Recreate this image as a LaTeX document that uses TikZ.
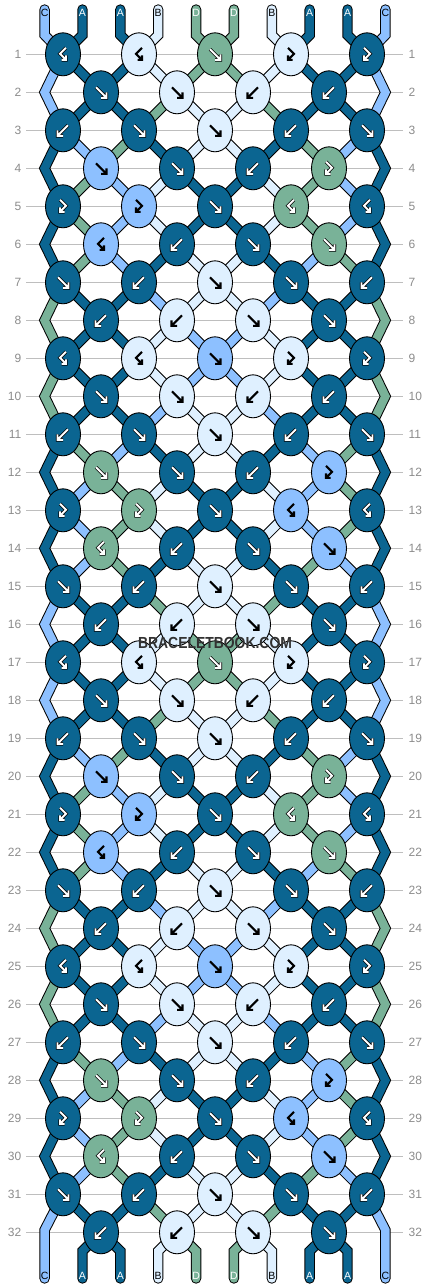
\documentclass[tikz,border=0pt]{standalone}
\usepackage{fontspec}
\setmainfont{Liberation Sans}
\usetikzlibrary{shapes.geometric}
\definecolor{cA}{RGB}{11,101,145}
\definecolor{cB}{RGB}{223,240,255}
\definecolor{cC}{RGB}{141,192,255}
\definecolor{cD}{RGB}{121,178,152}
\definecolor{gridgray}{RGB}{190,190,190}
\definecolor{labgray}{RGB}{140,140,140}
\definecolor{wmgray}{RGB}{50,50,50}
\pgfdeclarelayer{back}
\pgfdeclarelayer{strands}
\pgfsetlayers{back,strands,main}

% knot types / knot colours, rows 1-16 (pattern repeats)
\expandafter\def\csname kt1\endcsname{bf/A,bf/B,f/D,fb/B,fb/A}
\expandafter\def\csname kt2\endcsname{f/A,f/B,b/B,b/A}
\expandafter\def\csname kt3\endcsname{b/A,f/A,f/B,b/A,f/A}
\expandafter\def\csname kt4\endcsname{f/C,f/A,b/A,fb/D}
\expandafter\def\csname kt5\endcsname{fb/A,fb/C,f/A,bf/D,bf/A}
\expandafter\def\csname kt6\endcsname{bf/C,b/A,f/A,f/D}
\expandafter\def\csname kt7\endcsname{f/A,b/A,f/B,f/A,b/A}
\expandafter\def\csname kt8\endcsname{b/A,b/B,f/B,f/A}
\expandafter\def\csname kt9\endcsname{bf/A,bf/B,f/C,fb/B,fb/A}
\expandafter\def\csname kt10\endcsname{f/A,f/B,b/B,b/A}
\expandafter\def\csname kt11\endcsname{b/A,f/A,f/B,b/A,f/A}
\expandafter\def\csname kt12\endcsname{f/D,f/A,b/A,fb/C}
\expandafter\def\csname kt13\endcsname{fb/A,fb/D,f/A,bf/C,bf/A}
\expandafter\def\csname kt14\endcsname{bf/D,b/A,f/A,f/C}
\expandafter\def\csname kt15\endcsname{f/A,b/A,f/B,f/A,b/A}
\expandafter\def\csname kt16\endcsname{b/A,b/B,f/B,f/A}

% string colours per position after each row (mod 16)
\foreach \sr/\va/\vb/\vc/\vd/\ve/\vf/\vg/\vh/\vi/\vj in {
 0/C/A/A/B/D/D/B/A/A/C, 1/C/A/A/B/D/D/B/A/A/C, 2/C/A/A/D/B/B/D/A/A/C,
 3/A/C/D/A/B/B/A/D/C/A, 4/A/D/C/B/A/A/B/D/C/A, 5/A/D/C/B/A/A/B/D/C/A,
 6/A/D/C/A/B/B/A/C/D/A, 7/D/A/A/C/B/B/C/A/A/D, 8/D/A/A/B/C/C/B/A/A/D,
 9/D/A/A/B/C/C/B/A/A/D, 10/D/A/A/C/B/B/C/A/A/D, 11/A/D/C/A/B/B/A/C/D/A,
 12/A/C/D/B/A/A/B/C/D/A, 13/A/C/D/B/A/A/B/C/D/A, 14/A/C/D/A/B/B/A/D/C/A,
 15/C/A/A/D/B/B/D/A/A/C}{%
 \expandafter\xdef\csname st\sr-1\endcsname{\va}%
 \expandafter\xdef\csname st\sr-2\endcsname{\vb}%
 \expandafter\xdef\csname st\sr-3\endcsname{\vc}%
 \expandafter\xdef\csname st\sr-4\endcsname{\vd}%
 \expandafter\xdef\csname st\sr-5\endcsname{\ve}%
 \expandafter\xdef\csname st\sr-6\endcsname{\vf}%
 \expandafter\xdef\csname st\sr-7\endcsname{\vg}%
 \expandafter\xdef\csname st\sr-8\endcsname{\vh}%
 \expandafter\xdef\csname st\sr-9\endcsname{\vi}%
 \expandafter\xdef\csname st\sr-10\endcsname{\vj}%
}

% knot symbols (image coordinates, y downwards)
\newcommand\kSymf[1]{\draw[#1] (-5,-5) -- (5.5,5.5) (0,5.5) -- (5.5,5.5) -- (5.5,0);}
\newcommand\kSymb[1]{\draw[#1] (5,-5) -- (-5.5,5.5) (0,5.5) -- (-5.5,5.5) -- (-5.5,0);}
\newcommand\kSymfb[1]{\draw[#1] (-3,-6.5) -- (3,-0.5) -- (-3,5.5) (1.5,5.5) -- (-3,5.5) -- (-3,1);}
\newcommand\kSymbf[1]{\draw[#1] (3,-6.5) -- (-3,-0.5) -- (3,5.5) (-1.5,5.5) -- (3,5.5) -- (3,1);}
\newcommand\drawsym[4]{%
 \begin{scope}[shift={(#3,#4)}]
 \if A#2\def\isw{1}\else\if D#2\def\isw{1}\else\def\isw{0}\fi\fi
 \ifnum\isw=1
  \csname kSym#1\endcsname{line width=3.4,black}%
  \csname kSym#1\endcsname{line width=1.9,white}%
 \else
  \csname kSym#1\endcsname{line width=2.1,black}%
 \fi
 \end{scope}}

\newcommand\allstrands{%
 \foreach \rw in {1,...,31}{%
  \pgfmathtruncatemacro\mm{mod(\rw,16)}%
  \pgfmathtruncatemacro\rn{\rw+1}%
  \pgfmathtruncatemacro\isodd{mod(\rw,2)}%
  \foreach \pp in {2,...,9}{%
   \pgfmathtruncatemacro\co{2*floor((\pp-1)/2)}%
   \pgfmathtruncatemacro\ce{2*floor(\pp/2)-1}%
   \edef\scol{c\csname st\mm-\pp\endcsname}%
   \ifnum\isodd=1
    \draw[sty=\scol] (k-\rw-\co.center) -- (k-\rn-\ce.center);
   \else
    \draw[sty=\scol] (k-\rw-\ce.center) -- (k-\rn-\co.center);
   \fi
  }%
 }%
 \foreach \rw in {1,3,...,29}{%
  \pgfmathtruncatemacro\mm{mod(\rw,16)}%
  \pgfmathtruncatemacro\rn{\rw+1}%
  \pgfmathtruncatemacro\rnn{\rw+2}%
  \edef\scol{c\csname st\mm-1\endcsname}%
  \draw[sty=\scol] (k-\rw-0.center) -- (eL-\rn) -- (k-\rnn-0.center);
  \edef\scol{c\csname st\mm-10\endcsname}%
  \draw[sty=\scol] (k-\rw-8.center) -- (eR-\rn) -- (k-\rnn-8.center);
 }%
 \foreach \pp in {1,...,10}{%
  \pgfmathtruncatemacro\co{2*floor((\pp-1)/2)}%
  \edef\scol{c\csname st0-\pp\endcsname}%
  \draw[sty=\scol] (tt\pp) -- (tb\pp) -- (k-1-\co.center);
 }%
 \foreach \pp in {2,...,9}{%
  \pgfmathtruncatemacro\ce{2*floor(\pp/2)-1}%
  \edef\scol{c\csname st0-\pp\endcsname}%
  \draw[sty=\scol] (k-32-\ce.center) -- (bb\pp) -- (bt\pp);
 }%
 \edef\scol{c\csname st0-1\endcsname}%
 \draw[sty=\scol] (k-31-0.center) -- (bb1) -- (bt1);
 \edef\scol{c\csname st0-10\endcsname}%
 \draw[sty=\scol] (k-31-8.center) -- (bb10) -- (bt10);
}

\tikzset{
 knot/.style={ellipse, draw=black, line width=0.9, minimum width=35, minimum height=43, inner sep=0},
 gridline/.style={draw=gridgray, line width=1},
 rowlab/.style={text=labgray, font=\fontsize{12}{12}\selectfont, inner sep=0},
 endlab/.style={font=\fontsize{10.5}{10.5}\selectfont, inner sep=0},
 strandout/.style={draw=black, line width=10.4, line cap=round, line join=miter},
}

\begin{document}
\begin{tikzpicture}[x=1pt,y=-1pt]
\useasboundingbox (0,0) rectangle (430,1288);
\begin{pgfonlayer}{back}
 \fill[white] (0,0) rectangle (430,1288);
 \foreach \rw in {1,...,32}{
  \pgfmathsetmacro\ky{54.3+38*(\rw-1)}
  \draw[gridline] (26,\ky) -- (403,\ky);
  \node[rowlab, anchor=east] (ll\rw) at (21.5,\ky) {\rw};
  \node[rowlab, anchor=west] (lr\rw) at (408.5,\ky) {\rw};
 }
\end{pgfonlayer}

% edge and end coordinates
\foreach \rw in {2,4,...,32}{
 \pgfmathsetmacro\ky{54.3+38*(\rw-1)}
 \coordinate (eL-\rw) at (44.6,\ky);
 \coordinate (eR-\rw) at (385.4,\ky);
}
\foreach \pp in {1,...,10}{
 \pgfmathsetmacro\px{44.6+37.867*(\pp-1)}
 \coordinate (tt\pp) at (\px,9.5);
 \coordinate (tb\pp) at (\px,35);
 \coordinate (bb\pp) at (\px,1251);
 \coordinate (bt\pp) at (\px,1278.5);
}
\coordinate (bb1) at (44.6,1230);
\coordinate (bb10) at (385.4,1230);

% knots
\foreach \rw in {1,...,32}{
 \pgfmathtruncatemacro\mm{mod(\rw-1,16)+1}
 \pgfmathtruncatemacro\isodd{mod(\rw,2)}
 \pgfmathsetmacro\ky{54.3+38*(\rw-1)}
 \edef\klist{\csname kt\mm\endcsname}
 \foreach \kt/\kc [count=\ki] in \klist {
  \ifnum\isodd=1 \pgfmathtruncatemacro\col{2*(\ki-1)}\else\pgfmathtruncatemacro\col{2*\ki-1}\fi
  \pgfmathsetmacro\kx{63+38*\col}
  \node[knot, fill=c\kc] (k-\rw-\col) at (\kx,\ky) {};
  \drawsym{\kt}{\kc}{\kx}{\ky}
 }
}

% strands
\begin{pgfonlayer}{strands}
 \tikzset{sty/.style={strandout}}
 \allstrands
 \tikzset{sty/.style={draw=#1, line width=8.4, line cap=round, line join=miter}}
 \allstrands
\end{pgfonlayer}

% end labels
\foreach \pp in {1,...,10}{
 \pgfmathsetmacro\px{44.6+37.867*(\pp-1)}
 \edef\lc{\csname st0-\pp\endcsname}
 \if A\lc\def\tcol{white}\else\if D\lc\def\tcol{white}\else\def\tcol{black}\fi\fi
 \node[endlab, text=\tcol] (lt\pp) at (\px,12.5) {\lc};
 \node[endlab, text=\tcol] (lb\pp) at (\px,1276) {\lc};
}

\node[text=wmgray, font=\bfseries\fontsize{16}{16}\selectfont, inner sep=0] (wm) at (215,643) {\scalebox{0.87}[1]{BRACELETBOOK.COM}};
\end{tikzpicture}
\end{document}
